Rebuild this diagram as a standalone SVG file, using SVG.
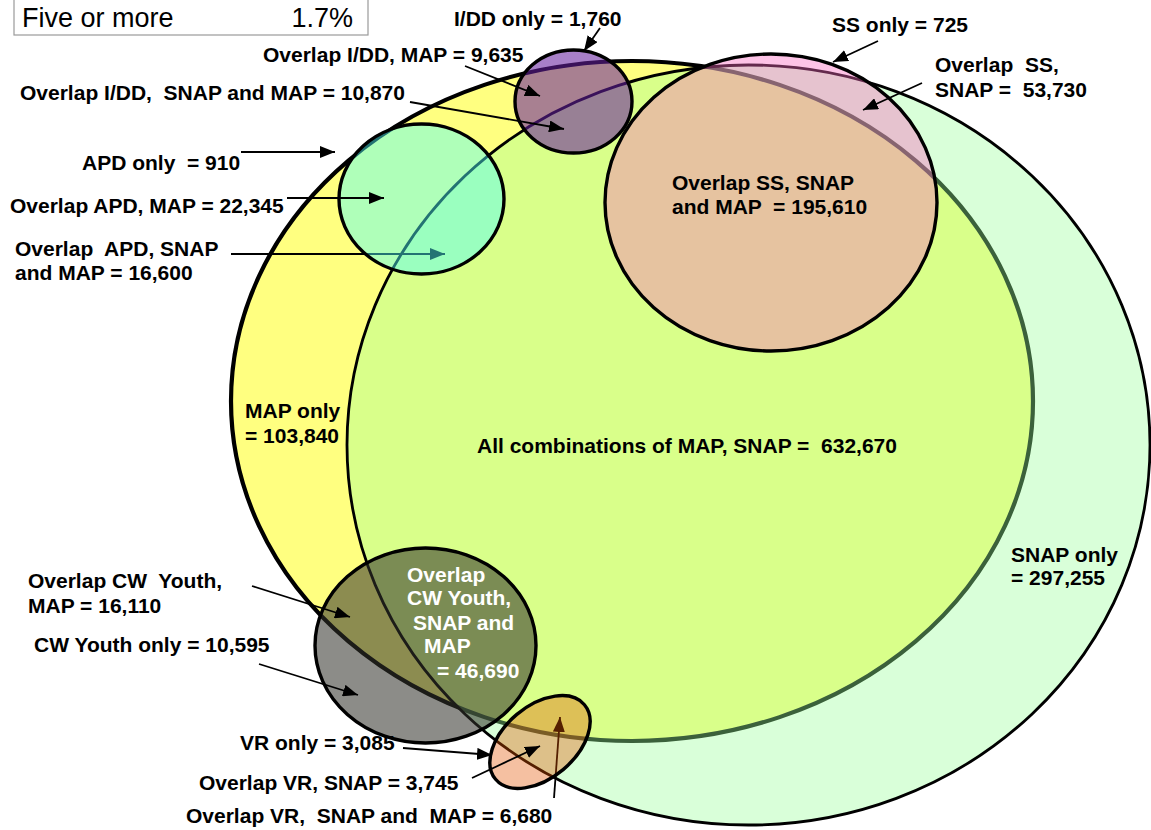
<svg xmlns="http://www.w3.org/2000/svg" width="1151" height="830" viewBox="0 0 1151 830">
<defs>
<style>
text{font-family:"Liberation Sans",Arial,sans-serif;font-weight:bold;font-size:21px;fill:#000;white-space:pre}
.leg{font-weight:normal;font-size:27px}
.wt{fill:#fff}
.ol{stroke:#000;stroke-width:3.4}
.arr{stroke:#000;stroke-width:1.8;fill:none;marker-end:url(#ah)}
</style>
<marker id="ah" viewBox="0 0 15 12" refX="15" refY="6" markerWidth="15" markerHeight="12" markerUnits="userSpaceOnUse" orient="auto">
<path d="M0,0 L15,6 L0,12 z" fill="#000"/>
</marker>
</defs>
<rect width="1151" height="830" fill="#fff"/>

<g id="legend">
<rect x="14" y="-10" width="354" height="45" fill="#fff" stroke="#9a9a9a" stroke-width="1.2"/>
<text class="leg" x="22" y="27">Five or more</text>
<text class="leg" x="353" y="27" text-anchor="end">1.7%</text>
</g>

<g id="MAP">
<ellipse cx="632" cy="401" rx="401" ry="340" fill="#FFFF80" stroke="#000" stroke-width="4.2"/>
</g>
<g id="SNAP">
<ellipse cx="748.5" cy="445" rx="401.5" ry="380" fill="rgb(155,255,155)" fill-opacity="0.38" stroke="#000" stroke-width="2.8"/>
</g>

<g id="connectors-under">
<line class="arr" x1="231" y1="254" x2="445" y2="254"/>
<line class="arr" x1="554" y1="798" x2="560" y2="717"/>
</g>

<g id="SS">
<ellipse class="ol" cx="771" cy="202.5" rx="166" ry="148.5" fill="rgb(250,105,192)" fill-opacity="0.4"/>
</g>
<g id="IDD">
<ellipse class="ol" cx="573.5" cy="101.5" rx="58.5" ry="51.5" fill="rgb(102,32,158)" fill-opacity="0.57"/>
</g>
<g id="APD">
<ellipse class="ol" cx="421.5" cy="199" rx="82.5" ry="75" fill="rgb(78,255,255)" fill-opacity="0.45"/>
</g>
<g id="CW">
<ellipse class="ol" cx="425.5" cy="645.5" rx="110.5" ry="97.5" fill="rgb(50,50,43)" fill-opacity="0.56"/>
</g>
<g id="VR">
<ellipse class="ol" cx="0" cy="0" rx="58" ry="36" transform="translate(540,742) rotate(-40)" fill="rgb(227,84,0)" fill-opacity="0.37"/>
</g>

<g id="connectors">
<line class="arr" x1="600" y1="28" x2="584" y2="51"/>
<line class="arr" x1="465" y1="66" x2="540" y2="96"/>
<line class="arr" x1="410" y1="102" x2="564" y2="129"/>
<line class="arr" x1="878" y1="41" x2="833" y2="62"/>
<line class="arr" x1="922" y1="83" x2="863" y2="110"/>
<line class="arr" x1="241" y1="152" x2="335" y2="152"/>
<line class="arr" x1="287" y1="198" x2="384" y2="198"/>
<line class="arr" x1="252" y1="586" x2="350" y2="617"/>
<line class="arr" x1="259" y1="664" x2="358" y2="695"/>
<line class="arr" x1="403" y1="748" x2="492" y2="755"/>
<line class="arr" x1="472" y1="778" x2="540" y2="746"/>
</g>

<g id="labels">
<text x="454" y="26">I/DD only = 1,760</text>
<text x="263" y="62">Overlap I/DD, MAP = 9,635</text>
<text x="20" y="100">Overlap I/DD,  SNAP and MAP = 10,870</text>
<text x="832" y="32">SS only = 725</text>
<text x="935" y="72">Overlap  SS,</text>
<text x="935" y="97">SNAP =  53,730</text>
<text x="672" y="190">Overlap SS, SNAP</text>
<text x="672" y="214">and MAP  = 195,610</text>
<text x="82" y="170">APD only  = 910</text>
<text x="10" y="213">Overlap APD, MAP = 22,345</text>
<text x="15" y="256">Overlap  APD, SNAP</text>
<text x="15" y="280">and MAP = 16,600</text>
<text x="245" y="418">MAP only</text>
<text x="245" y="443">= 103,840</text>
<text x="477" y="453">All combinations of MAP, SNAP =  632,670</text>
<text x="1011" y="562">SNAP only</text>
<text x="1011" y="585">= 297,255</text>
<text x="28" y="588">Overlap CW  Youth,</text>
<text x="28" y="613">MAP = 16,110</text>
<text x="34" y="652">CW Youth only = 10,595</text>
<text class="wt" x="407" y="582">Overlap</text>
<text class="wt" x="407" y="605">CW Youth,</text>
<text class="wt" x="413" y="630">SNAP and</text>
<text class="wt" x="424" y="653">MAP</text>
<text class="wt" x="437" y="678">= 46,690</text>
<text x="240" y="750">VR only = 3,085</text>
<text x="199" y="790">Overlap VR, SNAP = 3,745</text>
<text x="186" y="823">Overlap VR,  SNAP and  MAP = 6,680</text>
</g>
</svg>
